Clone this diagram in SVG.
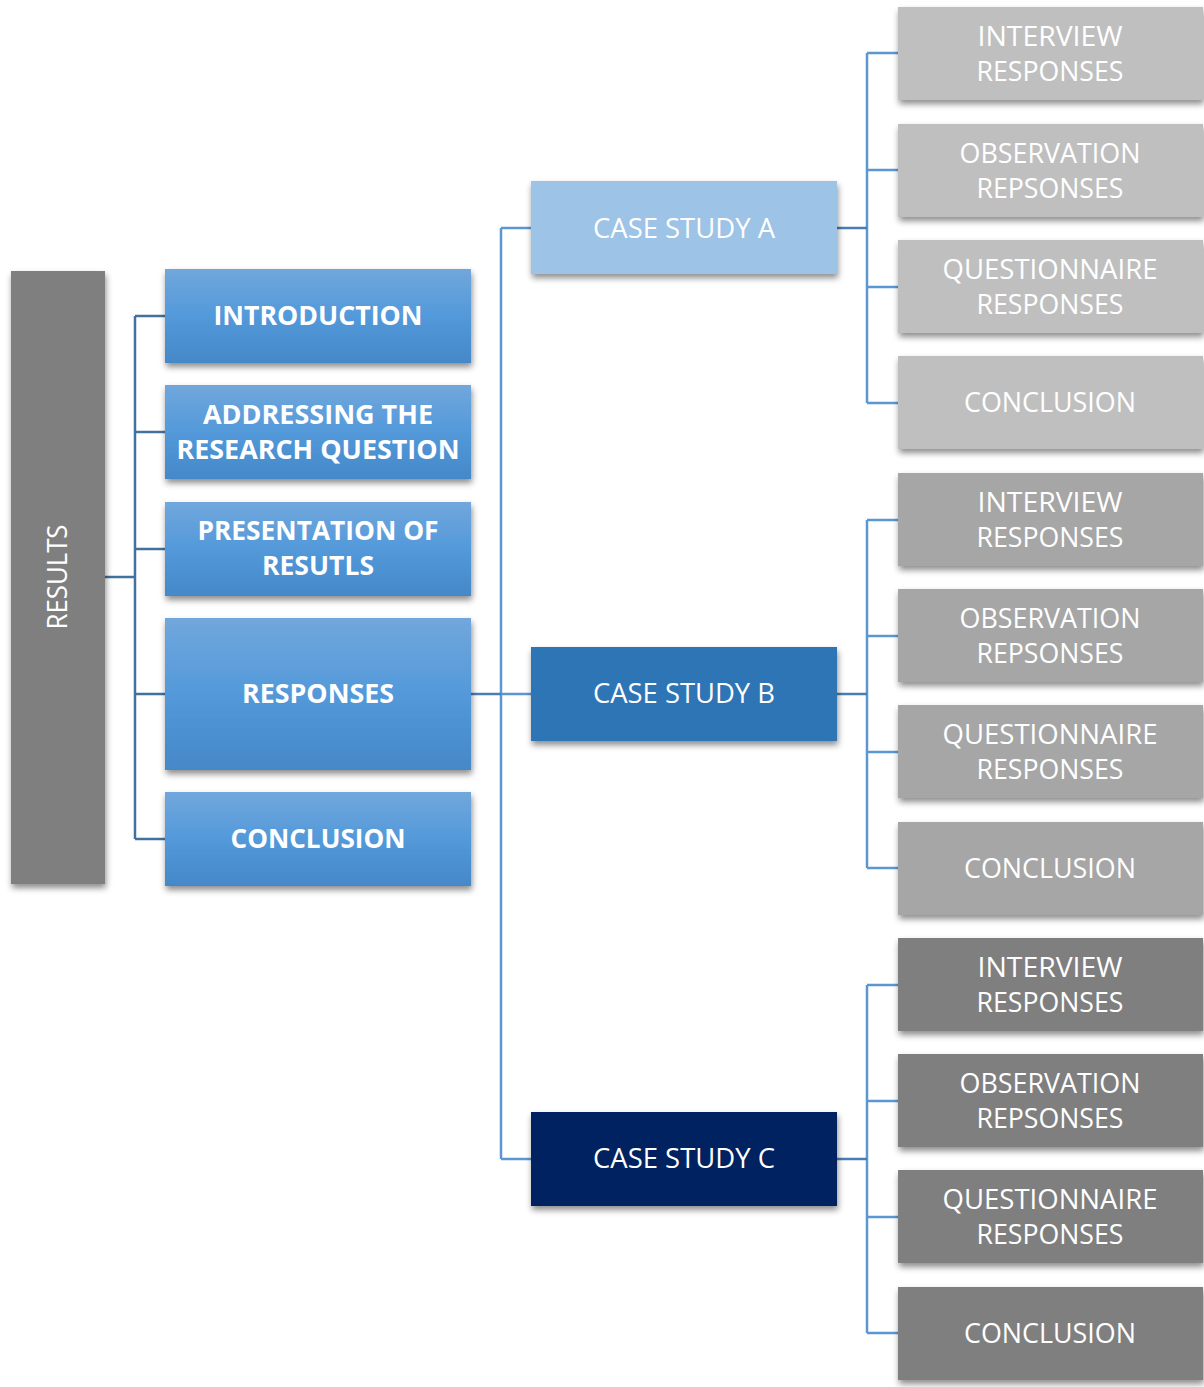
<svg xmlns="http://www.w3.org/2000/svg" width="1204" height="1387" viewBox="0 0 1204 1387">
  <defs>
    <linearGradient id="blueGrad" x1="0" y1="0" x2="0" y2="1">
      <stop offset="0" stop-color="#71a7dc"/>
      <stop offset="0.5" stop-color="#5399da"/>
      <stop offset="1" stop-color="#4588c8"/>
    </linearGradient>
    <filter id="shadow" x="-10%" y="-10%" width="125%" height="130%">
      <feDropShadow dx="1" dy="4" stdDeviation="3" flood-color="#000" flood-opacity="0.45"/>
    </filter>
  </defs>
  <style>
    text { font-family: "Open Sans", "Liberation Sans", sans-serif; fill: #ffffff; text-anchor: middle; }
    .bold { font-weight: bold; font-size: 27px; }
    .reg { font-size: 27px; }
    .box { filter: url(#shadow); }
    .blue { fill: url(#blueGrad); }
    .colA { fill: #bfbfbf; }
    .colB { fill: #a6a6a6; }
    .colC { fill: #7f7f7f; }
    .conn { fill: none; stroke-width: 2.5; }
    .dark { stroke: #41719c; }
    .mid { stroke: #4a7db5; }
    .light { stroke: #5b97d2; }
  </style>

  <!-- connectors -->
  <g id="connectors">
    <path class="conn dark" d="M105 577 H135 M135 316 V839 M135 316 H165 M135 432 H165 M135 549 H165 M135 694 H165 M135 839 H165"/>
    <path class="conn light" d="M501 228 V1159 M501 228 H531 M501 694 H531 M501 1159 H531"/>
    <path class="conn mid" d="M471 694 H501"/>
    <path class="conn light" d="M867 53 V403 M867 53 H898 M867 170 H898 M867 287 H898 M867 403 H898"/>
    <path class="conn light" d="M867 520 V868 M867 520 H898 M867 636 H898 M867 752 H898 M867 868 H898"/>
    <path class="conn light" d="M867 985 V1333 M867 985 H898 M867 1101 H898 M867 1217 H898 M867 1333 H898"/>
    <path class="conn mid" d="M837 228 H867 M837 694 H867 M837 1159 H867"/>
  </g>

  <!-- root -->
  <g id="results">
    <rect class="box" x="11" y="271" width="94" height="613" fill="#7f7f7f"/>
    <text class="reg" transform="translate(67,577) rotate(-90)" textLength="105" lengthAdjust="spacingAndGlyphs">RESULTS</text>
  </g>

  <!-- chapter sections -->
  <g id="introduction">
    <rect class="box blue" x="165" y="269" width="306" height="94"/>
    <text class="bold" x="318" y="325" textLength="209" lengthAdjust="spacingAndGlyphs">INTRODUCTION</text>
  </g>
  <g id="addressing">
    <rect class="box blue" x="165" y="385" width="306" height="94"/>
    <text class="bold" x="318" y="424" textLength="230" lengthAdjust="spacingAndGlyphs">ADDRESSING THE</text>
    <text class="bold" x="318" y="459" textLength="283" lengthAdjust="spacingAndGlyphs">RESEARCH QUESTION</text>
  </g>
  <g id="presentation">
    <rect class="box blue" x="165" y="502" width="306" height="94"/>
    <text class="bold" x="318" y="540" textLength="241" lengthAdjust="spacingAndGlyphs">PRESENTATION OF</text>
    <text class="bold" x="318" y="575" textLength="112" lengthAdjust="spacingAndGlyphs">RESUTLS</text>
  </g>
  <g id="responses">
    <rect class="box blue" x="165" y="618" width="306" height="152"/>
    <text class="bold" x="318" y="703" textLength="152" lengthAdjust="spacingAndGlyphs">RESPONSES</text>
  </g>
  <g id="conclusion">
    <rect class="box blue" x="165" y="792" width="306" height="94"/>
    <text class="bold" x="318" y="848" textLength="175" lengthAdjust="spacingAndGlyphs">CONCLUSION</text>
  </g>

  <!-- case studies -->
  <g id="case-a">
    <rect class="box" x="531" y="181" width="306" height="93" fill="#9dc3e6"/>
    <text class="reg" x="684" y="238" textLength="182" lengthAdjust="spacingAndGlyphs">CASE STUDY A</text>
  </g>
  <g id="case-b">
    <rect class="box" x="531" y="647" width="306" height="94" fill="#2e75b6"/>
    <text class="reg" x="684" y="703" textLength="182" lengthAdjust="spacingAndGlyphs">CASE STUDY B</text>
  </g>
  <g id="case-c">
    <rect class="box" x="531" y="1112" width="306" height="94" fill="#002060"/>
    <text class="reg" x="684" y="1168" textLength="182" lengthAdjust="spacingAndGlyphs">CASE STUDY C</text>
  </g>

  <!-- case study A details -->
  <g id="a-interview">
    <rect class="box colA" x="898" y="7" width="305" height="93"/>
    <text class="reg" x="1050" y="46" textLength="145" lengthAdjust="spacingAndGlyphs">INTERVIEW</text>
    <text class="reg" x="1050" y="81" textLength="147" lengthAdjust="spacingAndGlyphs">RESPONSES</text>
  </g>
  <g id="a-observation">
    <rect class="box colA" x="898" y="124" width="305" height="93"/>
    <text class="reg" x="1050" y="163" textLength="181" lengthAdjust="spacingAndGlyphs">OBSERVATION</text>
    <text class="reg" x="1050" y="198" textLength="147" lengthAdjust="spacingAndGlyphs">REPSONSES</text>
  </g>
  <g id="a-questionnaire">
    <rect class="box colA" x="898" y="240" width="305" height="93"/>
    <text class="reg" x="1050" y="279" textLength="215" lengthAdjust="spacingAndGlyphs">QUESTIONNAIRE</text>
    <text class="reg" x="1050" y="314" textLength="147" lengthAdjust="spacingAndGlyphs">RESPONSES</text>
  </g>
  <g id="a-conclusion">
    <rect class="box colA" x="898" y="356" width="305" height="93"/>
    <text class="reg" x="1050" y="412" textLength="172" lengthAdjust="spacingAndGlyphs">CONCLUSION</text>
  </g>

  <!-- case study B details -->
  <g id="b-interview">
    <rect class="box colB" x="898" y="473" width="305" height="93"/>
    <text class="reg" x="1050" y="512" textLength="145" lengthAdjust="spacingAndGlyphs">INTERVIEW</text>
    <text class="reg" x="1050" y="547" textLength="147" lengthAdjust="spacingAndGlyphs">RESPONSES</text>
  </g>
  <g id="b-observation">
    <rect class="box colB" x="898" y="589" width="305" height="93"/>
    <text class="reg" x="1050" y="628" textLength="181" lengthAdjust="spacingAndGlyphs">OBSERVATION</text>
    <text class="reg" x="1050" y="663" textLength="147" lengthAdjust="spacingAndGlyphs">REPSONSES</text>
  </g>
  <g id="b-questionnaire">
    <rect class="box colB" x="898" y="705" width="305" height="93"/>
    <text class="reg" x="1050" y="744" textLength="215" lengthAdjust="spacingAndGlyphs">QUESTIONNAIRE</text>
    <text class="reg" x="1050" y="779" textLength="147" lengthAdjust="spacingAndGlyphs">RESPONSES</text>
  </g>
  <g id="b-conclusion">
    <rect class="box colB" x="898" y="822" width="305" height="93"/>
    <text class="reg" x="1050" y="878" textLength="172" lengthAdjust="spacingAndGlyphs">CONCLUSION</text>
  </g>

  <!-- case study C details -->
  <g id="c-interview">
    <rect class="box colC" x="898" y="938" width="305" height="93"/>
    <text class="reg" x="1050" y="977" textLength="145" lengthAdjust="spacingAndGlyphs">INTERVIEW</text>
    <text class="reg" x="1050" y="1012" textLength="147" lengthAdjust="spacingAndGlyphs">RESPONSES</text>
  </g>
  <g id="c-observation">
    <rect class="box colC" x="898" y="1054" width="305" height="93"/>
    <text class="reg" x="1050" y="1093" textLength="181" lengthAdjust="spacingAndGlyphs">OBSERVATION</text>
    <text class="reg" x="1050" y="1128" textLength="147" lengthAdjust="spacingAndGlyphs">REPSONSES</text>
  </g>
  <g id="c-questionnaire">
    <rect class="box colC" x="898" y="1170" width="305" height="93"/>
    <text class="reg" x="1050" y="1209" textLength="215" lengthAdjust="spacingAndGlyphs">QUESTIONNAIRE</text>
    <text class="reg" x="1050" y="1244" textLength="147" lengthAdjust="spacingAndGlyphs">RESPONSES</text>
  </g>
  <g id="c-conclusion">
    <rect class="box colC" x="898" y="1287" width="305" height="93"/>
    <text class="reg" x="1050" y="1343" textLength="172" lengthAdjust="spacingAndGlyphs">CONCLUSION</text>
  </g>
</svg>
